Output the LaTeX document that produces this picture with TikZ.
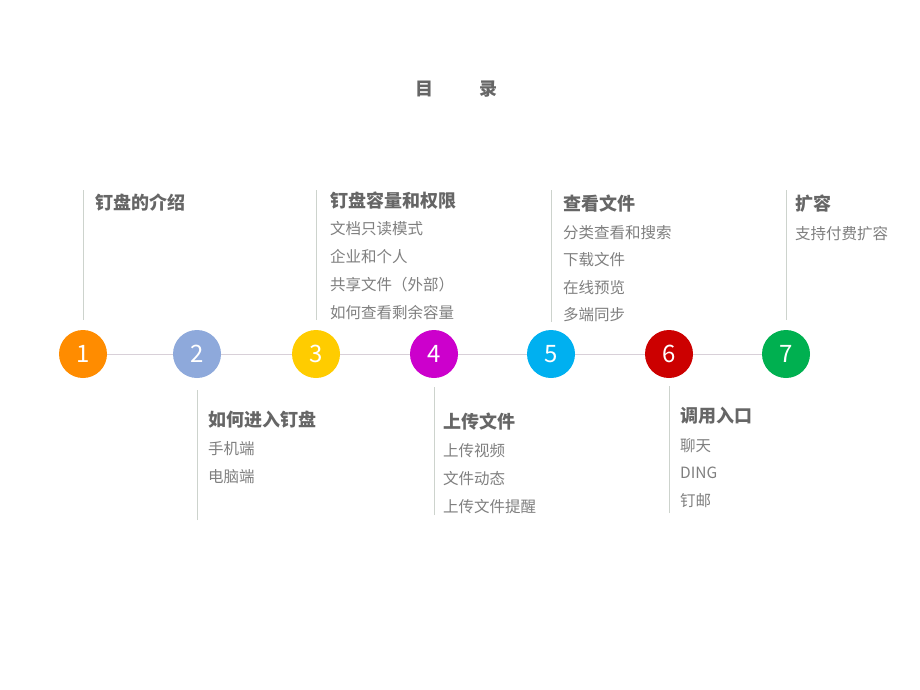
\documentclass[tikz,border=0pt]{standalone}
\usepackage{fontspec}
\setmainfont{Noto Sans CJK SC}
\usetikzlibrary{positioning}

\definecolor{cOne}{HTML}{FF8C00}
\definecolor{cTwo}{HTML}{8EA9DB}
\definecolor{cThree}{HTML}{FFCC00}
\definecolor{cFour}{HTML}{CC00CC}
\definecolor{cFive}{HTML}{00B0F0}
\definecolor{cSix}{HTML}{CC0000}
\definecolor{cSeven}{HTML}{00B050}
\definecolor{headgray}{HTML}{666666}
\definecolor{itemgray}{HTML}{7F7F7F}
\definecolor{stemgray}{HTML}{CDD3CD}
\definecolor{railgray}{HTML}{D8D0D8}

\tikzset{
    num/.style={circle, minimum size=48pt, inner sep=0pt, text=white,
        font=\fontsize{24}{24}\selectfont},
    head/.style={anchor=west, inner sep=0pt, text=headgray,
        font=\fontsize{18}{18}\selectfont\bfseries},
    item/.style={anchor=west, inner sep=0pt, text=itemgray,
        font=\fontsize{15.5}{15.5}\selectfont},
    stem/.style={draw=stemgray, line width=0.8pt},
    rail/.style={draw=railgray, line width=0.8pt}
}

\begin{document}
\begin{tikzpicture}[x=1pt, y=-1pt]
    \useasboundingbox (0,0) rectangle (920,690);

    \node[head, anchor=center] (mu) at (424,89) {目};
    \node[head, anchor=center] (lu) at (488,89) {录};

    \node[num, fill=cOne] (c1) at (83,354) {1};
    \node[num, fill=cTwo] (c2) at (197,354) {2};
    \node[num, fill=cThree] (c3) at (316,354) {3};
    \node[num, fill=cFour] (c4) at (434,354) {4};
    \node[num, fill=cFive] (c5) at (551,354) {5};
    \node[num, fill=cSix] (c6) at (669,354) {6};
    \node[num, fill=cSeven] (c7) at (786,354) {7};

    \foreach \a/\b in {c1/c2, c2/c3, c3/c4, c4/c5, c5/c6, c6/c7}
        \draw[rail] (\a) -- (\b);

    \coordinate (s1) at (83,190);
    \coordinate (s3) at (316,190);
    \coordinate (s5) at (551,190);
    \coordinate (s7) at (786,190);
    \coordinate (e2) at (197,520);
    \coordinate (e4) at (434,515);
    \coordinate (e6) at (669,513);

    \draw[stem] (s1) -- ([yshift=10pt]c1.north);
    \draw[stem] (s3) -- ([yshift=10pt]c3.north);
    \draw[stem] (s5) -- ([yshift=8pt]c5.north);
    \draw[stem] (s7) -- ([yshift=10pt]c7.north);
    \draw[stem] (e2) -- ([yshift=-12pt]c2.south);
    \draw[stem] (e4) -- ([yshift=-9pt]c4.south);
    \draw[stem] (e6) -- ([yshift=-8pt]c6.south);

    \node[head] (h1) at (95,203) {钉盘的介绍};

    \node[head] (h3) at (330,201) {钉盘容量和权限};
    \foreach \t [count=\i] in {文档只读模式, 企业和个人, 共享文件（外部）, 如何查看剩余容量}
        \node[item] (i3-\i) at (330,201+28*\i) {\t};

    \node[head] (h5) at (563,204) {查看文件};
    \foreach \t [count=\i] in {分类查看和搜索, 下载文件, 在线预览, 多端同步}
        \node[item] (i5-\i) at (563,205+27.5*\i) {\t};

    \node[head] (h7) at (795,204) {扩容};
    \node[item] (i7-1) at (795,234) {支持付费扩容};

    \node[head] (h2) at (208,420) {如何进入钉盘};
    \foreach \t [count=\i] in {手机端, 电脑端}
        \node[item] (i2-\i) at (208,421+28*\i) {\t};

    \node[head] (h4) at (443,422) {上传文件};
    \foreach \t [count=\i] in {上传视频, 文件动态, 上传文件提醒}
        \node[item] (i4-\i) at (443,423+28*\i) {\t};

    \node[head] (h6) at (680,416) {调用入口};
    \foreach \t [count=\i] in {聊天, DING, 钉邮}
        \node[item] (i6-\i) at (680,418+27.5*\i) {\t};
\end{tikzpicture}
\end{document}
